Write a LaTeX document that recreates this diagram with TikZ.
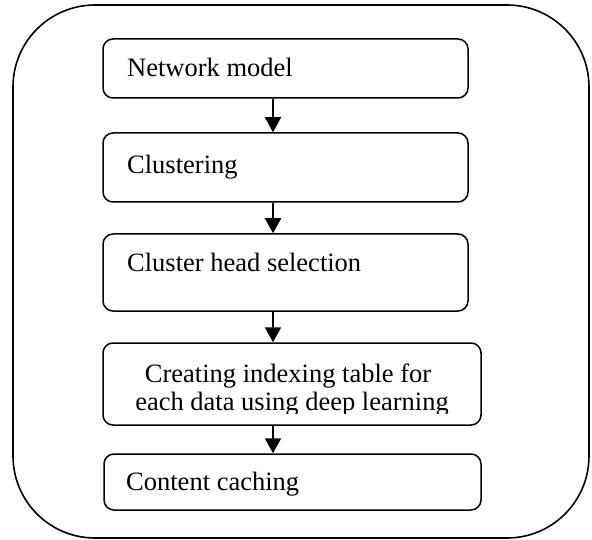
\documentclass[tikz,border=0pt]{standalone}
\usepackage{fontspec}
\setmainfont{Liberation Serif}
\usetikzlibrary{arrows.meta}
\begin{document}
\begin{tikzpicture}[x=1pt,y=-1pt,
  stepbox/.style={draw=black,line width=1.5pt,rounded corners=10pt,inner sep=0pt},
  lbl/.style={inner sep=0pt,anchor=base west,font=\fontsize{26.5}{30}\selectfont},
  clbl/.style={inner sep=0pt,anchor=base,font=\fontsize{26.5}{30}\selectfont},
  flow/.style={line width=2pt,-{Triangle[width=16pt,length=15pt]}}]
\useasboundingbox (0,0) rectangle (592,540);
\draw[line width=1.6pt,rounded corners=82pt] (13,5) rectangle (589,538);
\node[stepbox,minimum width=365pt,minimum height=59pt] (b1) at (285.5,68.5) {};
\node[stepbox,minimum width=365pt,minimum height=69pt] (b2) at (285.5,167.5) {};
\node[stepbox,minimum width=365pt,minimum height=77pt] (b3) at (285.5,272.5) {};
\node[stepbox,minimum width=378pt,minimum height=82pt] (b4) at (292,384) {};
\node[stepbox,minimum width=377pt,minimum height=56pt] (b5) at (292.5,482) {};
\node[lbl] (t1) at (127,77) {Network model};
\node[lbl] (t2) at (127,174) {Clustering};
\node[lbl] (t3) at (127,272) {Cluster head selection};
\node[clbl] (t4a) at (288,382) {Creating indexing table for};
\begin{scope}
\clip (100,390) rectangle (485,413);
\node[clbl] (t4b) at (292,410) {each data using deep learning};
\end{scope}
\node[lbl] (t5) at (126,490) {Content caching};
\coordinate (ax) at (273,0);
\draw[flow] (b1.south -| ax) -- (b2.north -| ax);
\draw[flow] (b2.south -| ax) -- (b3.north -| ax);
\draw[flow] (b3.south -| ax) -- (b4.north -| ax);
\draw[flow] (b4.south -| ax) -- (b5.north -| ax);
\end{tikzpicture}
\end{document}
